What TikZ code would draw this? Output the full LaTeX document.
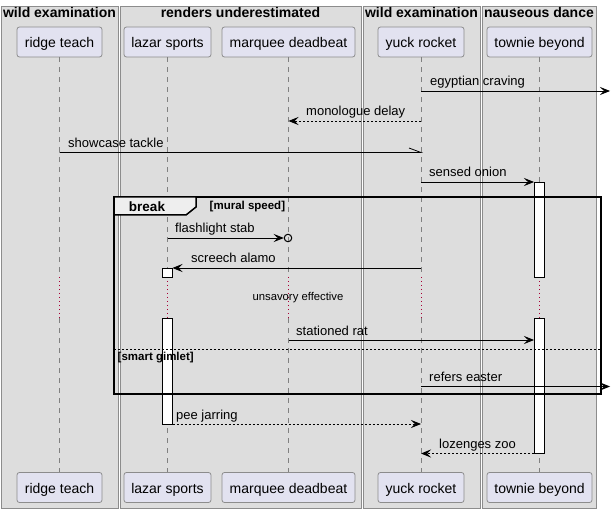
\documentclass[tikz,border=0pt]{standalone}
\usepackage{fontspec}
\setmainfont{Liberation Sans}
\usetikzlibrary{arrows.meta}
\definecolor{grpfill}{HTML}{DDDDDD}
\definecolor{grpline}{HTML}{8C8C8C}
\definecolor{partfill}{HTML}{E2E2F0}
\definecolor{partline}{HTML}{8C8C8C}
\definecolor{lifeline}{HTML}{808080}
\definecolor{delayred}{HTML}{A80036}
\definecolor{tabfill}{HTML}{EEEEEE}
\begin{document}
\begin{tikzpicture}[x=1pt,y=-1pt,
  grp/.style={draw=grpline,fill=grpfill,line width=0.8pt},
  grptitle/.style={font=\fontsize{14}{16}\selectfont\bfseries,anchor=base,inner sep=0pt},
  part/.style={draw=partline,fill=partfill,rounded corners=2.5pt,line width=0.8pt,
    minimum height=30pt,inner sep=0pt,text height=13pt,text depth=1pt,
    font=\fontsize{14}{16}\selectfont},
  life/.style={draw=lifeline,line width=0.6pt,dash pattern=on 5pt off 5pt},
  delayline/.style={draw=delayred,line width=0.6pt,dash pattern=on 1pt off 3pt},
  actbar/.style={draw=black,fill=white,line width=0.8pt},
  msg/.style={draw=black,line width=0.8pt},
  ret/.style={msg,dash pattern=on 2pt off 2pt},
  tip/.style={-{Stealth[length=10pt,width=8pt,inset=4pt]}},
  lbl/.style={font=\fontsize{13}{15}\selectfont,anchor=base west,inner sep=0pt},
  frame/.style={draw=black,line width=1.5pt},
  guard/.style={font=\fontsize{11.5}{13}\selectfont\bfseries,anchor=base west,inner sep=0pt}
]
\useasboundingbox (0,0) rectangle (611,513);
% group boxes
\path[grp] (1,6) rectangle (118,508);
\path[grp] (120,6) rectangle (361,508);
\path[grp] (363,6) rectangle (480,508);
\path[grp] (482,6) rectangle (596,508);
\node[grptitle] (g1) at (59.5,17.5) {wild examination};
\node[grptitle] (g2) at (240.5,17.5) {renders underestimated};
\node[grptitle] (g3) at (421.5,17.5) {wild examination};
\node[grptitle] (g4) at (539,17.5) {nauseous dance};
% participants
\node[part,minimum width=85pt] (rt) at (59.5,42) {ridge teach};
\node[part,minimum width=87pt] (ls) at (167.5,42) {lazar sports};
\node[part,minimum width=133pt] (md) at (288.5,42) {marquee deadbeat};
\node[part,minimum width=86pt] (yr) at (421,42) {yuck rocket};
\node[part,minimum width=105pt] (tb) at (539.5,42) {townie beyond};
\node[part,minimum width=85pt] (rtb) at (59.5,487.5) {ridge teach};
\node[part,minimum width=87pt] (lsb) at (167.5,487.5) {lazar sports};
\node[part,minimum width=133pt] (mdb) at (288.5,487.5) {marquee deadbeat};
\node[part,minimum width=86pt] (yrb) at (421,487.5) {yuck rocket};
\node[part,minimum width=105pt] (tbb) at (539.5,487.5) {townie beyond};
% lifelines
\foreach \p in {rt,ls,md,yr,tb}{
  \path[life] (\p.south) -- (\p.south |- 0,277);
  \path[delayline] (\p.south |- 0,277) -- (\p.south |- 0,318);
  \path[life] (\p.south |- 0,318) -- (\p b.north);
}
% activation bars
\path[actbar] (534,182) rectangle (544,277);
\path[actbar] (534,318) rectangle (544,453.5);
\path[actbar] (162,268) rectangle (172.5,277);
\path[actbar] (162,318) rectangle (172.5,424);
% coordinates
\coordinate (m1s) at (421,91);   \coordinate (m1e) at (610,91);
\coordinate (m2s) at (421,121);  \coordinate (m2e) at (288.5,121);
\coordinate (m3s) at (59.5,152.5); \coordinate (m3e) at (421,152.5);
\coordinate (m4s) at (421,182);  \coordinate (m4e) at (534,182);
\coordinate (m5s) at (167.5,238); \coordinate (m5e) at (284,238);
\coordinate (m6s) at (421,268);  \coordinate (m6e) at (172.5,268);
\coordinate (m7s) at (288.5,340); \coordinate (m7e) at (534,340);
\coordinate (m8s) at (421,386.5); \coordinate (m8e) at (610,386.5);
\coordinate (m9s) at (172.5,424); \coordinate (m9e) at (421,424);
\coordinate (m10s) at (534,453.5); \coordinate (m10e) at (421,453.5);
% messages
\draw[msg,tip] (m1s) -- (m1e);
\node[lbl] (l1) at (430,86) {egyptian craving};
\draw[ret,tip] (m2s) -- (m2e);
\node[lbl] (l2) at (306,116) {monologue delay};
\draw[msg] (m3s) -- (m3e) -- ++(-12,-4.5);
\node[lbl] (l3) at (68,147.5) {showcase tackle};
\draw[msg,tip] (m4s) -- (m4e);
\node[lbl] (l4) at (429,177) {sensed onion};
% break fragment
\node[draw=black,line width=1pt,circle,inner sep=0pt,minimum size=7.5pt] (circ) at (288,238) {};
\draw[msg,tip] (m5s) -- (circ.west);
\node[lbl] (l5) at (175,233) {flashlight stab};
\draw[msg,tip] (m6s) -- (m6e);
\node[lbl] (l6) at (191,263) {screech alamo};
\node[font=\fontsize{11.3}{13}\selectfont,anchor=base,inner sep=0pt] (dl) at (298,301) {unsavory effective};
\draw[msg,tip] (m7s) -- (m7e);
\node[lbl] (l7) at (296,335) {stationed rat};
\draw[msg,tip] (m8s) -- (m8e);
\node[lbl] (l8) at (429,381.5) {refers easter};
\path[frame] (114,197) rectangle (601,394);
\path[frame,fill=tabfill] (114,197) -- (196,197) -- (196,207) -- (186,215) -- (114,215) -- cycle;
\node[font=\fontsize{13.5}{15}\selectfont\bfseries,anchor=base,inner sep=0pt] (brk) at (147,211.5) {break};
\node[guard] (gd1) at (209.5,210) {[mural speed]};
\draw[line width=0.8pt,dash pattern=on 2pt off 2pt] (114,349) -- (601,349);
\node[guard] (gd2) at (117.5,360.5) {[smart gimlet]};
\draw[ret,tip] (m9s) -- (m9e);
\node[lbl] (l9) at (176,419) {pee jarring};
\draw[ret,tip] (m10s) -- (m10e);
\node[lbl] (l10) at (439,448.5) {lozenges zoo};
\end{tikzpicture}
\end{document}
